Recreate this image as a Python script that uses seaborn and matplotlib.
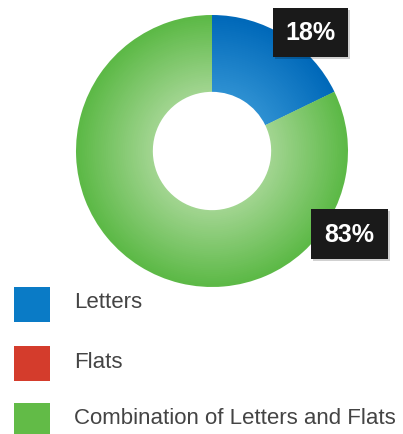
import numpy as np
import matplotlib
matplotlib.use("Agg")
import matplotlib.pyplot as plt
from matplotlib.patches import Rectangle
from matplotlib.colors import to_rgb
import seaborn as sns

sns.set_theme(style="white")
plt.rcParams["font.family"] = ["Liberation Sans", "DejaVu Sans"]

# Share of mail pieces by type
categories = ["Letters", "Flats", "Combination of Letters and Flats"]
values = [18, 0, 83]
labels = ["18%", "", "83%"]

# outer (dark) and inner (light) tones for the radial shading of each slice
outer_colors = ["#0069b9", "#d43c2c", "#5cb946"]
inner_colors = ["#2e90d2", "#e06a5c", "#a2d591"]
legend_colors = ["#0a7bc6", "#d43c2c", "#62bb47"]

W, H = 403, 434
fig = plt.figure(figsize=(W / 100, H / 100), dpi=100)
fig.patch.set_facecolor("white")

cx, cy, R = 212, 151, 136
ax = fig.add_axes([(cx - R) / W, (H - cy - R) / H, 2 * R / W, 2 * R / H])
ax.set_aspect("equal")
ax.axis("off")

hole = 0.445
n_rings = 40
edges = np.linspace(hole, 1.0, n_rings + 1)
for i in range(n_rings):
    t = (edges[i] + edges[i + 1]) / 2
    f = (t - hole) / (1 - hole)
    cols = [tuple(np.array(to_rgb(ci)) * (1 - f) + np.array(to_rgb(co)) * f)
            for ci, co in zip(inner_colors, outer_colors)]
    ax.pie(values, radius=edges[i + 1], colors=cols, startangle=90,
           counterclock=False,
           wedgeprops=dict(width=edges[i + 1] - edges[i] + 0.01,
                           linewidth=0, antialiased=True))
ax.set_xlim(-1, 1)
ax.set_ylim(-1, 1)

# value badges (pixel boxes: left, top, width, height)
badge_box = {"18%": (273, 8, 75, 49), "83%": (311, 209, 77, 50)}
for lab in labels:
    if not lab:
        continue
    x0, y0, bw, bh = badge_box[lab]
    # soft drop shadow
    fig.add_artist(Rectangle(((x0 + 2) / W, 1 - (y0 + bh + 2) / H), bw / W, bh / H,
                             transform=fig.transFigure, facecolor="#000000",
                             alpha=0.18, edgecolor="none"))
    fig.add_artist(Rectangle((x0 / W, 1 - (y0 + bh) / H), bw / W, bh / H,
                             transform=fig.transFigure, facecolor="#1a1a1a",
                             edgecolor="none"))
    fig.text((x0 + bw / 2) / W, 1 - (y0 + bh / 2 + 1) / H, lab,
             ha="center", va="center", color="white",
             fontsize=18, fontweight="bold")

# legend
sq = 36
rows_y = [287, 346, 403]
for name, col, y0 in zip(categories, legend_colors, rows_y):
    fig.add_artist(Rectangle((14 / W, 1 - (y0 + 35) / H), sq / W, 35 / H,
                             transform=fig.transFigure, facecolor=col,
                             edgecolor="none"))
    fig.text(74 / W, 1 - (y0 + 16) / H, name, ha="left", va="center",
             color="#444444", fontsize=16)

fig.savefig("out.png", dpi=100, facecolor="white")
